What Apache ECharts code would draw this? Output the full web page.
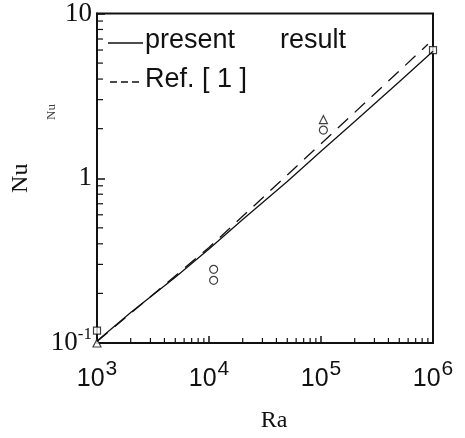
<!DOCTYPE html>
<html>
<head>
<meta charset="utf-8">
<script src="https://cdn.jsdelivr.net/npm/echarts@6/dist/echarts.min.js"></script>
<style>
  html, body { margin: 0; background: #fff; }
  #chart { width: 465px; height: 438px; }
</style>
</head>
<body>
<div id="chart"></div>
<script>
// present result (solid line)
var raPresent = [1e3, 2e3, 5e3, 1e4, 2e4, 5e4, 1e5, 2e5, 5e5, 1e6]
var nuPresent = [0.103, 0.153, 0.251, 0.372, 0.562, 0.955, 1.46, 2.21, 3.85, 5.9]
// Ref. [1] (dashed line)
var raRef = [1e3, 1e4, 1e5, 9e5]
var nuRef = [0.102, 0.38, 1.62, 6.5]
// open symbols
var squarePts = [[1e3, 0.119], [1e6, 6.0]]
var circlePts = [[1.1e4, 0.28], [1.1e4, 0.24], [1.05e5, 1.96]]
var trianglePts = [[1.05e5, 2.27], [1e3, 0.1]]
// tick labels
var xTickExp = [3, 4, 5, 6]
var xTickText = ['10{s|3}', '10{s|4}', '10{s|5}', '10{s|6}']
var yTickExp = [-1, 0, 1]
var yTickText = ['10{s|-1}', '1', '10']
// minor ticks (2..9 x decade)
var minorMul = [2, 3, 4, 5, 6, 7, 8, 9]
var xDecades = [1e3, 1e4, 1e5]
var yDecades = [0.1, 1]

function zip (a, b) {
  return a.map(function (v, i) { return [v, b[i]] })
}
function lookup (exps, texts, v) {
  var i = exps.indexOf(Math.round(Math.log10(v)))
  return i < 0 ? '' : texts[i]
}

var xMinor = []
xDecades.forEach(function (d) { minorMul.forEach(function (m) { xMinor.push([d * m, 0.1]) }) })
var yMinor = []
yDecades.forEach(function (d) { minorMul.forEach(function (m) { yMinor.push([1e3, d * m]) }) })

var ink = '#111'
var sym = { color: '#fff', borderColor: ink, borderWidth: 1.2 }

var chart = echarts.init(document.getElementById('chart'))
chart.setOption({
  animation: false,
  grid: { left: 97, right: 32, top: 13, bottom: 83, show: true, borderColor: ink, borderWidth: 2 },
  xAxis: {
    type: 'log', min: 1e3, max: 1e6,
    name: 'Ra', nameLocation: 'middle', nameGap: 66,
    nameTextStyle: { fontFamily: 'Liberation Serif', fontSize: 24, color: ink, padding: [0, 0, 0, 18] },
    axisLine: { lineStyle: { color: ink, width: 2 } },
    axisTick: { inside: true, length: 7, lineStyle: { color: ink, width: 1.5 } },
    splitLine: { show: false },
    axisLabel: {
      margin: 16, color: ink, fontFamily: 'Liberation Sans', fontSize: 25,
      formatter: function (v) { return lookup(xTickExp, xTickText, v) },
      rich: { s: { fontFamily: 'Liberation Sans', fontSize: 21, padding: [0, 0, 20, 1] } }
    }
  },
  yAxis: {
    type: 'log', min: 0.1, max: 10,
    name: 'Nu', nameLocation: 'middle', nameGap: 64,
    nameTextStyle: { fontFamily: 'Liberation Serif', fontSize: 24, color: ink },
    axisLine: { lineStyle: { color: ink, width: 2 } },
    axisTick: { inside: true, length: 8, lineStyle: { color: ink, width: 1.5 } },
    splitLine: { show: false },
    axisLabel: {
      margin: 5, color: ink, fontFamily: 'Liberation Serif', fontSize: 27,
      formatter: function (v) { return lookup(yTickExp, yTickText, v) },
      rich: { s: { fontFamily: 'Liberation Serif', fontSize: 17, padding: [0, 0, 16, 0] } }
    }
  },
  graphic: [
    { type: 'line', shape: { x1: 108, y1: 43, x2: 143, y2: 43 }, style: { stroke: ink, lineWidth: 1.5 } },
    { type: 'text', left: 145, top: 27, style: { text: 'present      result', font: '27px "Liberation Sans"', fill: ink } },
    { type: 'line', shape: { x1: 110, y1: 82, x2: 143, y2: 82 }, style: { stroke: ink, lineWidth: 1.5, lineDash: [7, 4] } },
    { type: 'text', left: 145, top: 66, style: { text: 'Ref. [ 1 ]', font: '27px "Liberation Sans"', fill: ink } },
    { type: 'text', x: 52, y: 112, rotation: Math.PI / 2, style: { text: 'Nu', font: '13px "Liberation Serif"', fill: '#444', align: 'center', verticalAlign: 'middle' } }
  ],
  series: [
    {
      type: 'line', data: zip(raPresent, nuPresent), showSymbol: false,
      lineStyle: { color: ink, width: 1.3 }
    },
    {
      type: 'line', data: zip(raRef, nuRef), showSymbol: false,
      lineStyle: { color: ink, width: 1.3, type: [14, 9] }
    },
    { type: 'scatter', data: squarePts, symbol: 'rect', symbolSize: 7, itemStyle: sym },
    { type: 'scatter', data: circlePts, symbol: 'circle', symbolSize: 8, itemStyle: sym },
    { type: 'scatter', data: trianglePts, symbol: 'triangle', symbolSize: 8, itemStyle: sym },
    {
      type: 'custom', data: xMinor, silent: true, clip: false,
      renderItem: function (params, api) {
        var p = api.coord([api.value(0), api.value(1)])
        return { type: 'line', shape: { x1: p[0], y1: p[1], x2: p[0], y2: p[1] - 5 }, style: { stroke: ink, lineWidth: 1.2 } }
      }
    },
    {
      type: 'custom', data: yMinor, silent: true, clip: false,
      renderItem: function (params, api) {
        var p = api.coord([api.value(0), api.value(1)])
        return { type: 'line', shape: { x1: p[0], y1: p[1], x2: p[0] + 6, y2: p[1] }, style: { stroke: ink, lineWidth: 1.2 } }
      }
    }
  ]
})
</script>
</body>
</html>
